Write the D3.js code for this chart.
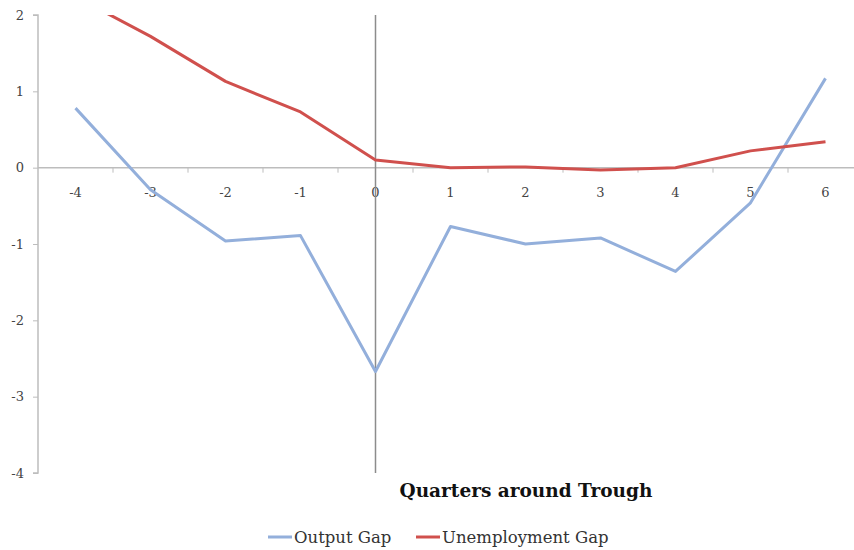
<!DOCTYPE html>
<html>
<head>
<meta charset="utf-8">
<script src="https://cdn.jsdelivr.net/npm/d3@7"></script>
<style>
  body { margin: 0; background: #fff; }
  svg text { font-family: "DejaVu Serif", "Liberation Serif", serif; fill: #444; }
</style>
</head>
<body>
<div id="chart"></div>
<script>
const quarters = [-4, -3, -2, -1, 0, 1, 2, 3, 4, 5, 6];
const outputGap = [0.78, -0.29, -0.96, -0.89, -2.67, -0.77, -1.0, -0.92, -1.36, -0.46, 1.17];
const unemploymentGap = [2.24, 1.72, 1.13, 0.73, 0.10, 0.0, 0.01, -0.03, 0.0, 0.22, 0.34];
const yTicks = [-4, -3, -2, -1, 0, 1, 2];
const seriesNames = ["Output Gap", "Unemployment Gap"];
const colors = ["#93afdb", "#d0504d"];

const width = 854, height = 550;
const plot = {left: 38, top: 15, bottom: 473, catWidth: 75};

let svg = d3.select("#chart")
    .append("svg")
    .attr("width", width)
    .attr("height", height);

let xScale = d3.scaleLinear()
    .domain([-4.5, 6.5])
    .range([plot.left, plot.left + quarters.length * plot.catWidth]);
let yScale = d3.scaleLinear()
    .domain([-4, 2])
    .range([plot.bottom, plot.top]);

svg.append("clipPath")
    .attr("id", "plotclip")
    .append("rect")
    .attr("x", plot.left)
    .attr("y", plot.top)
    .attr("width", width - plot.left)
    .attr("height", plot.bottom - plot.top);

// y axis
let yAxis = svg.append("g")
    .attr("transform", `translate(${plot.left},0)`)
    .call(d3.axisLeft(yScale).tickValues(yTicks).tickSize(5).tickPadding(9).tickFormat(d => d));
yAxis.select(".domain").attr("stroke", "#bdbdbd").attr("stroke-width", 1.5).attr("d", `M-5,${plot.top}H0V${plot.bottom}H-5`);
yAxis.selectAll(".tick line").attr("stroke", "#bdbdbd");
yAxis.selectAll(".tick text").attr("font-size", 13).attr("fill", "#444");

// x axis at zero
let boundaries = d3.range(-3.5, 6.5, 1);
let xAxis = svg.append("g")
    .attr("transform", `translate(0,${yScale(0)})`);
xAxis.append("line")
    .attr("x1", plot.left).attr("x2", width)
    .attr("stroke", "#bdbdbd").attr("stroke-width", 1.5);
xAxis.selectAll(".xtick")
    .data(boundaries)
    .enter()
    .append("line")
    .attr("class", "xtick")
    .attr("x1", d => xScale(d)).attr("x2", d => xScale(d))
    .attr("y1", 0).attr("y2", 5)
    .attr("stroke", "#bdbdbd");
xAxis.selectAll(".xlabel")
    .data(quarters)
    .enter()
    .append("text")
    .attr("class", "xlabel")
    .attr("x", d => xScale(d))
    .attr("y", 29)
    .attr("text-anchor", "middle")
    .attr("font-size", 13)
    .text(d => d);

// vertical marker at the trough
svg.append("line")
    .attr("x1", xScale(0)).attr("x2", xScale(0))
    .attr("y1", plot.top).attr("y2", plot.bottom)
    .attr("stroke", "#8c8c8c")
    .attr("stroke-width", 1.5);

let line = d3.line()
    .x((d, i) => xScale(quarters[i]))
    .y(d => yScale(d));

svg.append("g")
    .attr("clip-path", "url(#plotclip)")
    .selectAll("path")
    .data([outputGap, unemploymentGap])
    .enter()
    .append("path")
    .attr("d", d => line(d))
    .attr("fill", "none")
    .attr("stroke", (d, i) => colors[i])
    .attr("stroke-width", 3)
    .attr("stroke-linejoin", "round");

// axis title
svg.append("text")
    .attr("x", 526)
    .attr("y", 497)
    .attr("text-anchor", "middle")
    .attr("font-size", 18.5)
    .attr("font-weight", "bold")
    .style("fill", "#111")
    .text("Quarters around Trough");

// legend
const legendX = [268, 416];
let legend = svg.selectAll(".legend")
    .data(seriesNames)
    .enter()
    .append("g")
    .attr("class", "legend")
    .attr("transform", (d, i) => `translate(${legendX[i]},537)`);
legend.append("line")
    .attr("x1", 0).attr("x2", 24)
    .attr("stroke", (d, i) => colors[i])
    .attr("stroke-width", 3);
legend.append("text")
    .attr("x", 26)
    .attr("y", 6)
    .attr("font-size", 16.5)
    .style("fill", "#333")
    .text(d => d);
</script>
</body>
</html>
